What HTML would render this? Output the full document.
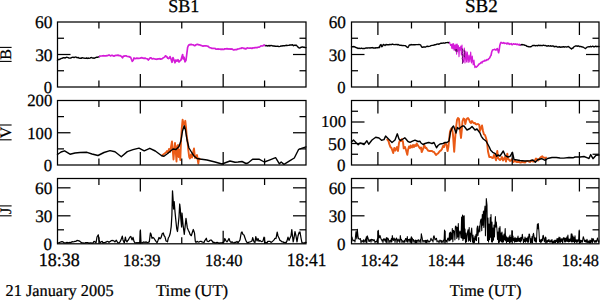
<!DOCTYPE html>
<html><head><meta charset="utf-8"><style>
html,body{margin:0;padding:0;background:#fff;}
svg{display:block;font-family:"Liberation Serif", serif;}
.t{fill:#000;text-rendering:geometricPrecision;stroke:#000;stroke-width:1.5px;}
</style></head><body>
<svg width="600" height="300" viewBox="0 0 600 300">
<rect width="600" height="300" fill="#fff"/>
<polyline points="57.50,60.30 58.25,59.57 59.00,59.50 60.00,59.31 61.00,58.50 62.00,58.39 63.00,57.80 64.00,57.68 65.00,58.00 65.75,57.65 66.50,57.30 67.25,57.40 68.00,57.60 69.00,57.99 70.00,58.10 71.00,58.01 72.00,57.40 73.00,57.13 74.00,57.60 75.00,57.10 76.00,57.03 77.00,57.80 78.00,57.40 79.00,58.10 80.00,58.20 80.75,58.09 81.50,58.34 82.25,57.60 83.00,58.00 84.00,58.10 85.00,58.30 85.75,58.42 86.50,57.91 87.25,58.48 88.00,58.00 89.00,58.41 90.00,58.10 90.75,57.63 91.50,57.57 92.25,57.99 93.00,57.90 94.00,58.25 95.00,57.80 95.83,57.53 96.67,57.21 97.50,57.30 98.50,56.83 99.50,56.50" fill="none" stroke="#000" stroke-width="1.4" stroke-linejoin="round" stroke-linecap="round" />
<polyline points="264.50,45.30 265.25,45.76 266.00,45.40 267.00,46.00 268.00,45.80 269.00,45.50 270.00,46.00 271.00,45.43 272.00,45.60 273.00,46.05 274.00,45.90 275.00,46.26 276.00,46.20 276.75,46.40 277.50,46.30 278.25,46.28 279.00,46.60 280.00,46.40 281.00,46.00 282.00,46.00 283.00,45.80 284.00,45.82 285.00,45.70 286.00,45.29 287.00,45.50 288.00,45.34 289.00,45.30 290.00,45.05 291.00,45.00 291.75,45.05 292.50,44.70 293.50,45.80 294.50,45.10 295.25,45.50 296.00,45.00 297.00,45.90 298.00,47.10 299.00,47.90 299.75,48.10 300.50,47.50 301.25,47.29 302.00,47.00 302.75,47.05 303.50,47.20 304.25,47.19 305.00,47.60 306.00,47.60" fill="none" stroke="#000" stroke-width="1.4" stroke-linejoin="round" stroke-linecap="round" />
<polyline points="99.50,56.50 100.25,55.99 101.00,56.00 102.00,55.94 103.00,55.80 104.00,55.72 105.00,55.90 106.00,55.85 107.00,55.60 107.75,55.70 108.50,55.12 109.25,55.04 110.00,55.50 110.75,55.89 111.50,55.36 112.25,55.38 113.00,55.70 114.00,56.15 115.00,55.60 116.00,55.42 117.00,55.30 118.00,55.10 119.00,55.69 120.00,55.60 120.75,55.98 121.50,56.40 122.50,57.80 123.50,56.00 124.25,56.09 125.00,55.90 126.00,55.75 127.00,56.30 128.00,56.53 129.00,56.50 129.75,57.12 130.50,57.00 131.50,59.50 132.30,61.30 133.20,60.20 134.00,58.00 135.00,58.60 136.00,58.37 137.00,58.10 138.00,58.44 139.00,58.30 140.00,58.27 141.00,57.90 142.00,57.61 143.00,58.20 144.00,58.41 145.00,58.10 146.00,58.54 147.00,58.80 147.65,59.20 148.30,60.00 149.50,58.60 150.25,57.73 151.00,57.80 151.75,58.67 152.50,58.80 153.25,58.72 154.00,58.70 155.00,59.07 156.00,59.00 157.00,59.33 158.00,58.90 159.00,58.96 160.00,58.60 160.75,59.22 161.50,59.00 162.50,58.40 163.25,57.79 164.00,57.40 164.75,56.90 165.50,55.80 166.25,56.34 167.00,57.00 167.75,58.24 168.50,58.60 169.25,57.98 170.00,56.60 171.00,59.00 172.00,62.30 173.00,57.50 174.00,60.00 175.00,62.80 176.00,60.00 177.00,61.20 178.00,59.60 179.00,62.00 180.00,60.80 181.00,60.00 182.00,56.50 182.60,54.50 183.30,59.00 184.00,57.20 185.00,61.80 186.00,60.20 186.80,54.00 187.60,47.50 188.50,45.30 189.25,44.65 190.00,44.80 191.00,44.34 192.00,44.60 193.00,44.72 194.00,45.40 194.75,45.72 195.50,45.10 196.50,44.64 197.50,44.30 198.25,44.68 199.00,44.80 200.00,44.90 201.00,45.40 202.00,45.76 203.00,46.10 204.00,45.89 205.00,45.90 206.00,45.80 207.00,46.00 207.65,46.29 208.30,46.40 209.30,47.50 210.15,47.78 211.00,47.90 212.00,48.45 213.00,48.20 214.00,48.48 215.00,48.40 215.90,49.23 216.80,49.20 218.00,48.90 219.00,49.31 220.00,49.00 221.00,49.54 222.00,49.10 223.00,49.42 224.00,49.40 224.75,48.76 225.50,48.80 226.25,49.01 227.00,48.50 228.00,49.11 229.00,48.80 230.00,49.25 231.00,48.90 231.75,49.12 232.50,49.20 233.25,49.81 234.00,50.00 235.00,49.56 236.00,49.70 236.75,49.68 237.50,49.00 238.25,48.97 239.00,48.80 240.00,48.43 241.00,48.50 242.00,47.81 243.00,48.00 244.00,48.55 245.00,48.40 245.75,48.99 246.50,48.60 247.25,47.89 248.00,48.00 249.00,48.30 250.00,48.00 251.00,48.11 252.00,48.40 253.00,47.85 254.00,48.00 255.00,47.59 256.00,47.60 257.00,47.67 258.00,47.20 259.00,47.27 260.00,46.60 261.00,45.84 262.00,46.00 262.83,45.88 263.67,45.08 264.50,45.30" fill="none" stroke="#d41cd8" stroke-width="1.7" stroke-linejoin="round" stroke-linecap="round" />
<polyline points="351.50,47.00 352.25,46.64 353.00,46.70 354.00,46.53 355.00,47.00 355.75,47.32 356.50,47.80 357.25,47.87 358.00,48.50 359.00,48.15 360.00,48.50 361.00,48.32 362.00,48.30 362.75,48.63 363.50,48.54 364.25,48.51 365.00,48.30 366.00,47.93 367.00,48.00 367.75,48.05 368.50,47.87 369.25,47.81 370.00,48.10 371.00,47.63 372.00,47.80 372.75,47.57 373.50,48.14 374.25,48.06 375.00,47.80 376.00,47.95 377.00,47.60 377.83,47.81 378.67,47.29 379.50,47.50 380.20,45.00 381.00,44.50 381.80,46.80 382.60,46.00 383.30,44.40 384.15,44.80 385.00,45.50 386.00,44.50 387.00,44.75 388.00,44.80 389.00,44.74 390.00,44.30 390.75,44.61 391.50,44.65 392.25,44.04 393.00,44.40 393.75,44.53 394.50,44.64 395.25,44.55 396.00,44.60 396.75,44.42 397.50,44.73 398.25,44.50 399.00,44.90 400.00,45.40 401.00,45.20 402.00,45.64 403.00,45.50 404.00,45.59 405.00,45.60 405.75,45.94 406.50,46.60 407.25,47.38 408.00,47.50 408.65,46.31 409.30,45.00 410.15,45.06 411.00,44.50 412.00,44.83 413.00,44.60 414.00,44.71 415.00,44.80 416.00,44.63 417.00,44.60 418.00,44.63 419.00,44.50 419.75,44.59 420.50,44.80 421.50,46.80 422.50,47.40 423.33,47.00 424.17,46.98 425.00,47.00 425.75,47.13 426.50,46.38 427.25,46.26 428.00,46.50 429.00,46.40 430.00,46.10 431.00,45.57 432.00,45.40 433.00,45.23 434.00,45.00 435.00,44.73 436.00,44.50 437.00,44.12 438.00,44.00 439.00,44.20 440.00,43.60 441.00,43.21 442.00,43.30 442.75,43.16 443.50,42.91 444.25,43.18 445.00,43.00 446.00,42.62 447.00,42.60 447.83,42.45 448.67,42.73 449.50,42.50" fill="none" stroke="#000" stroke-width="1.4" stroke-linejoin="round" stroke-linecap="round" />
<polyline points="520.00,45.00 521.00,44.85 522.00,44.50 523.00,44.84 524.00,44.80 525.00,45.39 526.00,45.50 527.00,46.35 528.00,46.50 529.00,46.84 530.00,46.80 531.00,46.74 532.00,46.00 533.00,45.37 534.00,45.50 534.75,45.47 535.50,45.85 536.25,45.62 537.00,45.50 537.75,45.82 538.50,45.19 539.25,45.48 540.00,45.50 540.83,45.31 541.67,45.57 542.50,45.61 543.33,45.18 544.17,45.36 545.00,45.60 545.83,45.49 546.67,46.07 547.50,46.01 548.33,45.59 549.17,46.17 550.00,46.00 550.83,45.79 551.67,46.26 552.50,45.95 553.33,45.93 554.17,46.71 555.00,46.50 555.83,46.35 556.67,46.44 557.50,47.14 558.33,47.13 559.17,46.75 560.00,47.00 560.83,47.34 561.67,46.96 562.50,47.04 563.33,46.63 564.17,47.19 565.00,46.80 565.75,46.88 566.50,47.02 567.25,46.89 568.00,46.50 569.00,46.99 570.00,47.80 570.75,48.29 571.50,49.00 572.25,48.23 573.00,48.00 573.75,46.97 574.50,46.50 575.33,45.99 576.17,46.01 577.00,46.00 577.75,46.21 578.50,45.85 579.25,46.52 580.00,46.50 580.75,46.50 581.50,46.60 582.25,47.13 583.00,47.00 583.75,47.48 584.50,48.00 585.50,48.60 586.25,47.75 587.00,47.20 588.00,46.88 589.00,46.60 589.75,46.74 590.50,46.20 591.25,46.91 592.00,46.50 592.75,46.12 593.50,46.70 594.25,46.78 595.00,46.50 595.80,46.11 596.60,46.73 597.40,46.39 598.20,46.56 599.00,46.50" fill="none" stroke="#000" stroke-width="1.4" stroke-linejoin="round" stroke-linecap="round" />
<polyline points="449.50,42.50 450.00,43.71 450.60,45.46 451.20,44.20 451.80,48.33 452.40,43.73 453.00,49.00 453.60,43.58 454.20,50.39 454.80,44.96 455.40,49.98 456.00,44.03 456.60,54.31 457.20,44.03 457.80,50.68 458.40,45.56 459.00,56.67 459.60,47.28 460.20,50.12 460.80,46.02 461.40,54.85 462.00,45.11 462.60,62.45 463.50,62.00 464.30,48.00 465.00,63.00 465.80,51.00 466.60,62.00 467.30,52.00 468.20,62.50 469.00,55.00 469.80,62.00 470.70,52.00 471.50,63.00 472.30,56.00 473.20,65.00 474.00,60.00 474.80,67.80 475.50,66.00 476.30,67.50 477.20,66.30" fill="none" stroke="#d41cd8" stroke-width="1.1" stroke-linejoin="round" stroke-linecap="round" />
<polyline points="477.20,66.30 478.00,65.50 478.50,64.72 479.00,64.00 479.50,63.94 480.00,63.50 480.50,63.20 481.00,62.50 481.50,62.22 482.00,62.80 482.50,61.56 483.00,61.50 483.50,61.20 484.00,61.20 484.50,60.48 485.00,60.30 485.50,60.77 486.00,60.50 486.50,60.23 487.00,59.50 487.50,59.67 488.00,59.60 488.50,59.12 489.00,58.50 489.50,58.09 490.00,57.30 490.50,55.97 491.00,55.50 491.70,52.00 492.50,50.00 493.25,49.73 494.00,49.60 494.75,49.34 495.50,49.90 496.00,50.09 496.50,49.30 497.30,48.60 498.00,50.50 498.60,52.80 499.20,50.00 499.80,45.50 500.50,43.20 501.00,42.37 501.50,42.60 502.25,43.18 503.00,43.00 503.67,42.59 504.33,43.42 505.00,43.30 505.60,43.18 506.20,43.35 506.80,43.95 507.40,43.04 508.00,43.70 508.67,43.27 509.33,44.40 510.00,44.00 510.60,44.05 511.20,43.59 511.80,44.70 512.40,44.70 513.00,44.20 513.67,43.77 514.33,44.17 515.00,44.30 515.60,43.90 516.20,44.16 516.80,44.57 517.40,44.06 518.00,44.50 518.67,44.90 519.33,44.29 520.00,45.00" fill="none" stroke="#d41cd8" stroke-width="1.6" stroke-linejoin="round" stroke-linecap="round" />
<polyline points="455.30,49.50 456.00,51.50 456.60,49.20 457.20,51.80" fill="none" stroke="#5a0a5e" stroke-width="0.9" stroke-linejoin="round" stroke-linecap="round" />
<polyline points="462.20,48.70 462.90,51.00 462.20,53.50 462.90,56.00 462.20,58.50 462.90,61.00 462.40,63.50" fill="none" stroke="#5a0a62" stroke-width="0.9" stroke-linejoin="round" stroke-linecap="round" />
<polyline points="464.10,50.00 464.60,52.50 464.10,55.00 464.60,57.00" fill="none" stroke="#5a0a5e" stroke-width="0.9" stroke-linejoin="round" stroke-linecap="round" />
<polyline points="162.00,155.50 164.00,154.00 166.00,152.50 167.00,151.00 168.00,153.00 169.00,149.00 170.00,152.00 171.00,147.00 172.00,141.50 172.80,151.00 173.50,159.50 174.30,150.00 175.00,143.00 175.80,152.00 176.50,161.50 177.30,146.00 178.00,145.00 178.70,157.00 179.50,150.00 180.30,160.00 181.00,141.00 181.80,128.00 182.60,119.80 183.50,124.00 184.30,125.00 185.30,120.80 186.00,127.00 186.70,136.00 187.50,141.00 188.30,150.00 189.20,157.00 190.00,158.50 191.00,154.50 192.00,157.50 193.00,153.00 194.00,148.50 195.00,158.00 196.00,157.00 197.00,155.00 198.30,163.50 199.00,158.50 200.00,159.00" fill="none" stroke="#ea5a16" stroke-width="1.9" stroke-linejoin="round" stroke-linecap="round" />
<polyline points="57.50,154.50 61.00,152.00 64.60,150.80 70.00,154.20 75.00,153.00 80.00,152.50 87.00,152.30 92.00,154.00 98.00,155.50 104.00,152.50 110.00,150.60 115.00,151.80 121.30,156.80 127.30,151.60 133.00,149.60 139.00,148.10 144.20,150.80 149.80,148.30 155.30,151.00 161.70,155.70 164.00,156.20 167.00,154.00 170.00,151.50 173.00,149.00 176.00,149.50 179.00,146.50 181.00,140.50 182.50,131.00 184.20,125.80 185.50,130.00 187.00,140.00 189.00,148.00 192.00,153.00 194.00,156.00 197.00,158.50 200.00,159.00 207.00,160.00 215.00,162.00 222.00,164.00 226.00,162.50 230.00,161.00 235.00,162.30 238.00,162.00 242.00,161.50 246.00,163.50 248.00,163.00 252.60,159.20 259.00,159.20 264.30,162.00 270.00,159.80 275.60,157.70 279.40,163.80 281.20,162.00 284.00,164.40 290.00,160.60 294.30,158.00 298.70,149.30 302.20,148.10 306.00,146.90" fill="none" stroke="#000" stroke-width="1.4" stroke-linejoin="round" stroke-linecap="round" />
<polyline points="387.30,139.60 388.50,141.00 389.25,143.91 390.00,146.00 390.75,147.45 391.50,148.00 392.35,150.48 393.20,153.00 394.30,148.00 395.50,150.50 396.25,148.42 397.00,147.00 398.00,151.00 399.00,143.00 400.00,140.00 401.00,141.00 402.00,139.00 403.00,142.00 403.70,148.30 405.00,147.00 406.00,150.00 407.30,154.80 408.00,150.00 409.00,146.50 410.00,148.00 410.70,145.50 412.00,147.50 413.00,145.00 414.00,147.00 415.00,145.00 416.00,146.00 416.70,143.50 418.00,145.50 419.00,147.00 420.00,148.50 421.00,147.50 421.70,152.00 423.00,149.00 424.20,145.20 425.50,148.00 426.25,147.80 427.00,149.00 428.00,150.50 429.00,150.98 430.00,151.00 431.00,150.96 432.00,151.00 433.00,151.86 434.00,152.00 435.00,153.50 436.00,155.00 437.00,154.00 438.00,153.50 439.00,152.07 440.00,151.00 441.00,150.38 442.00,149.00 443.00,146.00 444.00,147.00 445.00,143.20 445.75,143.78 446.50,145.00 447.60,151.00 448.50,146.00 449.30,138.00 450.00,131.70 451.00,129.00 452.00,128.00 453.00,135.00 454.20,151.70 455.00,140.00 456.00,128.00 457.00,120.00 458.00,118.00 459.00,119.00 460.00,130.00 461.00,138.00 461.80,130.00 462.50,121.00 463.50,118.50 464.50,119.00 465.30,124.00 466.00,121.00 467.00,118.50 468.00,118.00 469.00,119.50 470.00,122.00 471.00,123.00 472.00,121.00 473.00,122.50 474.00,123.17 475.00,123.00 475.75,124.07 476.50,124.50 477.25,124.13 478.00,124.00 479.30,125.00 480.00,131.00 481.00,128.00 482.00,125.50 483.00,131.00 484.00,134.50 485.00,135.00 486.00,138.00 487.00,142.00 488.00,151.50 489.30,157.00 490.15,157.05 491.00,157.00 492.00,157.75 493.00,158.00 494.00,155.00 495.00,157.22 496.00,160.30 497.30,151.00 498.00,158.00 499.00,159.08 500.00,160.00 501.00,158.93 502.00,157.00 503.00,160.50 504.00,159.00 505.00,157.00 506.00,161.50 507.30,153.70 508.00,159.00 509.00,159.67 510.00,161.00 511.00,160.42 512.00,159.00 513.00,162.00 514.00,161.51 515.00,160.50 516.00,161.73 517.00,162.00 518.00,161.94 519.00,161.76 520.00,162.50 521.00,162.42 522.00,161.50 523.00,162.26 524.00,162.09 525.00,162.50 526.00,161.43 527.00,161.08 528.00,161.00 529.00,161.69 530.00,162.00 531.00,160.96 532.00,160.50 533.00,161.63 534.00,161.50 535.00,160.12 536.00,158.50 537.00,159.08 538.00,160.50 539.00,159.47 540.00,158.00 541.15,156.95 542.30,156.30 543.15,157.51 544.00,157.50 545.00,158.07 546.00,157.50" fill="none" stroke="#ea5a16" stroke-width="1.95" stroke-linejoin="round" stroke-linecap="round" />
<polyline points="351.50,141.90 353.50,140.00 356.40,143.10 358.20,144.80 360.00,143.00 362.00,143.50 364.00,144.50 366.90,140.80 368.70,144.30 372.00,140.00 375.70,137.30 379.00,138.00 381.50,140.20 384.00,139.60 385.60,136.10 388.00,138.50 392.00,142.50 395.00,140.00 397.30,133.80 399.00,139.00 400.50,140.50 403.00,139.00 404.80,137.80 405.50,138.50 408.00,141.50 410.00,142.40 412.50,141.20 415.00,140.20 418.00,141.50 420.00,141.30 421.00,143.00 423.00,144.50 425.00,143.50 428.50,142.50 430.00,142.80 432.00,143.50 434.00,142.50 436.50,147.80 438.00,145.50 440.00,144.00 443.00,143.50 445.00,142.50 447.00,142.50 449.00,141.00 450.50,132.00 452.50,127.00 453.50,126.00 455.00,130.00 456.00,133.00 457.50,127.50 459.00,129.00 461.00,127.00 462.50,126.00 464.00,126.00 467.00,130.00 470.00,128.50 472.00,126.50 475.00,130.00 477.00,129.00 480.00,133.00 481.30,136.30 483.30,139.00 486.00,141.00 489.30,147.00 490.70,150.30 492.70,152.30 495.30,153.70 496.70,156.30 498.00,155.00 500.00,156.00 503.30,151.00 505.30,155.70 508.00,157.00 510.00,156.30 512.50,152.30 514.00,159.50 517.00,160.00 520.00,160.50 525.00,161.00 530.00,160.70 533.00,160.00 535.30,162.20 538.00,159.50 541.70,158.70 545.20,160.40 547.50,158.50 552.00,157.50 556.30,157.50 560.00,158.00 563.80,158.10 569.00,157.50 573.00,157.80 575.00,157.00 580.00,157.00 584.00,156.50 587.50,157.80 589.00,158.50 590.70,154.60 593.00,158.70 596.00,155.20 599.00,155.00" fill="none" stroke="#000" stroke-width="1.4" stroke-linejoin="round" stroke-linecap="round" />
<polyline points="57.50,242.90 58.25,242.86 59.00,242.90 60.00,242.27 61.00,241.90 62.00,241.54 63.00,241.90 64.00,242.77 65.00,242.90 66.00,242.90 67.00,242.41 68.00,242.90 69.00,242.65 70.00,242.40 71.00,242.63 72.00,241.65 73.00,241.90 74.00,241.70 75.00,241.40 76.00,241.28 77.00,240.47 78.00,240.70 79.00,240.93 80.00,241.40 81.00,242.35 82.00,242.90 83.00,242.85 84.00,243.13 85.00,242.90 85.83,242.56 86.67,242.64 87.50,242.51 88.33,242.91 89.17,243.32 90.00,242.90 91.00,242.99 92.00,243.17 93.00,242.90 94.00,241.40 95.00,241.90 96.00,242.90 97.00,237.00 98.30,234.80 99.00,239.90 100.00,242.90 101.00,241.90 102.30,241.40 103.00,242.90 104.00,242.53 105.00,242.40 106.00,242.15 107.00,241.40 108.00,241.50 109.00,242.40 109.77,241.56 110.53,241.31 111.30,240.50 112.15,240.68 113.00,240.40 114.00,241.07 115.00,241.90 116.30,240.20 117.30,241.90 118.00,242.90 119.00,242.90 120.00,241.90 121.00,239.90 122.30,236.20 123.00,239.90 124.30,242.90 125.40,237.20 126.00,240.40 127.00,241.90 127.70,240.49 128.40,239.90 129.20,238.22 130.00,237.00 130.80,236.40 132.00,239.90 133.00,237.40 134.00,241.40 135.00,242.90 136.00,242.90 137.00,242.61 138.00,242.90 138.90,242.68 139.80,242.90 140.40,230.00 141.00,242.90 142.00,242.96 143.00,242.40 144.00,241.93 145.00,242.45 146.00,241.90 147.00,242.53 148.00,242.40 149.30,241.90 150.40,233.00 151.00,234.00 152.00,238.30 153.00,237.50 154.00,238.25 155.00,239.90 156.00,241.40 157.00,242.70 158.00,240.40 159.00,237.50 160.00,238.80 161.00,237.80 162.30,233.50 163.30,233.00 164.00,235.50 165.00,236.80 166.00,240.90 166.75,241.23 167.50,241.80 168.30,238.00 169.20,236.50 170.20,233.50 171.20,226.60 171.90,215.00 172.50,190.80 173.10,199.50 173.60,209.00 174.20,201.70 175.00,211.70 175.80,220.00 176.70,228.50 177.50,231.50 178.20,225.00 179.00,217.00 179.70,204.00 180.30,209.00 180.80,218.30 181.60,227.00 182.00,213.00 183.00,224.30 184.30,234.30 185.15,226.29 186.00,218.30 187.30,227.70 188.30,230.30 189.15,231.82 190.00,234.30 191.30,235.70 192.30,232.52 193.30,229.50 194.50,233.00 195.30,241.20 196.00,242.40 197.00,241.40 198.00,241.90 199.00,242.06 200.00,241.40 201.00,241.26 202.00,241.90 203.00,242.25 204.00,242.40 204.77,240.62 205.53,239.68 206.30,238.20 207.00,240.90 208.00,241.55 209.00,241.40 209.70,240.45 210.40,240.10 211.20,240.01 212.00,240.90 213.00,242.40 214.00,242.23 215.00,242.90 215.83,242.94 216.67,242.42 217.50,242.48 218.33,242.90 219.17,243.32 220.00,242.90 221.00,242.82 222.00,242.90 223.00,242.30 224.00,241.90 224.80,238.50 226.00,240.90 227.00,241.90 228.00,240.40 229.00,238.50 230.00,241.40 231.00,242.40 232.00,241.90 233.00,242.54 234.00,242.90 235.00,242.24 236.00,242.40 237.00,241.40 238.00,242.90 239.00,241.48 240.00,239.90 241.20,233.00 242.00,232.00 243.00,234.50 244.00,235.00 245.00,238.00 246.00,240.90 247.00,242.40 248.00,242.90 249.00,242.07 250.00,241.90 251.00,241.51 252.00,240.90 252.70,237.60 254.00,241.90 255.00,242.40 255.80,236.60 257.00,240.90 258.00,238.50 259.00,241.40 260.00,240.40 261.00,241.40 262.00,241.61 263.00,240.90 264.00,237.20 265.00,242.90 266.00,242.45 267.00,242.90 267.80,241.40 268.90,241.46 270.00,241.40 271.00,242.40 272.00,241.76 273.00,240.90 274.00,239.90 275.00,238.30 276.00,238.50 277.20,232.20 278.00,236.00 279.00,238.00 280.00,240.40 281.00,240.80 282.00,241.90 283.00,241.83 284.00,242.73 285.00,242.40 286.00,242.90 287.00,240.90 288.00,237.20 289.00,240.40 290.00,238.00 291.00,236.00 291.80,229.60 292.50,236.00 293.20,241.90 294.00,238.00 295.00,231.70 296.00,236.00 297.00,241.90 298.00,236.00 299.20,232.20 300.00,232.00 301.00,238.00 302.00,242.90 303.00,242.90 304.00,243.15 305.00,242.40 306.00,242.40" fill="none" stroke="#000" stroke-width="1.25" stroke-linejoin="round" stroke-linecap="round" />
<polyline points="351.50,239.00 352.00,237.00 352.50,239.46 353.00,241.00 353.50,240.37 354.00,240.00 354.50,240.60 355.00,242.00 355.50,236.29 356.00,231.50 356.43,236.69 356.87,238.94 357.30,229.30 358.00,236.00 358.50,238.64 359.00,239.00 359.50,239.32 360.00,238.50 360.50,238.77 361.00,243.04 361.50,241.00 362.00,240.50 362.50,241.38 363.00,241.99 363.50,239.71 364.00,242.35 364.50,240.86 365.00,241.00 365.43,238.97 365.87,242.30 366.30,236.80 366.80,242.94 367.30,235.80 368.00,238.00 368.50,239.77 369.00,241.50 369.50,241.27 370.00,239.50 370.50,239.97 371.00,242.14 371.50,239.34 372.00,239.50 372.50,239.44 373.00,241.00 373.50,240.35 374.00,239.50 374.50,240.70 375.00,242.58 375.50,241.61 376.00,241.50 376.50,241.91 377.00,240.50 377.43,238.54 377.87,243.10 378.30,230.20 379.00,238.00 379.50,237.34 380.00,235.50 380.50,237.22 381.00,239.00 381.50,239.14 382.00,241.00 382.50,239.73 383.00,242.54 383.50,239.42 384.00,238.50 384.50,239.72 385.00,241.00 385.47,239.11 385.93,242.29 386.40,237.50 386.93,243.20 387.47,238.00 388.00,238.50 388.50,239.30 389.00,243.02 389.50,240.73 390.00,241.00 390.46,240.20 390.92,242.29 391.38,238.53 391.84,241.97 392.30,235.50 393.00,240.00 393.50,240.49 394.00,238.00 394.50,239.02 395.00,242.46 395.50,239.30 396.00,239.00 396.50,238.02 397.00,242.76 397.50,240.65 398.00,239.00 398.50,240.14 399.00,241.50 399.43,239.73 399.87,242.56 400.30,235.50 401.00,240.00 401.50,239.45 402.00,242.56 402.50,240.84 403.00,241.00 403.50,241.22 404.00,242.72 404.50,240.22 405.00,241.98 405.50,238.56 406.00,238.50 406.43,239.83 406.87,241.79 407.30,236.50 407.87,242.39 408.43,239.56 409.00,240.00 409.46,239.10 409.92,242.12 410.38,238.93 410.84,242.47 411.30,236.70 412.00,238.00 412.50,238.82 413.00,242.31 413.50,239.53 414.00,241.00 414.50,240.85 415.00,242.85 415.50,240.12 416.00,242.89 416.50,240.28 417.00,242.73 417.50,240.23 418.00,240.00 418.50,239.73 419.00,242.48 419.50,240.69 420.00,241.00 420.43,239.19 420.87,242.88 421.30,233.70 422.00,237.00 422.50,239.96 423.00,242.27 423.50,240.72 424.00,240.50 424.50,240.79 425.00,242.29 425.50,240.36 426.00,242.66 426.50,240.34 427.00,242.70 427.50,239.95 428.00,240.50 428.50,241.40 429.00,242.25 429.50,241.13 430.00,241.50 430.50,240.16 431.00,238.20 431.50,239.68 432.00,240.50 432.50,239.76 433.00,242.08 433.50,236.63 434.00,235.70 434.50,237.37 435.00,240.00 435.50,239.32 436.00,238.50 436.50,238.37 437.00,241.92 437.50,241.08 438.00,241.00 438.50,240.95 439.00,242.98 439.50,240.90 440.00,240.00 440.50,240.58 441.00,242.12 441.50,240.57 442.00,242.81 442.50,241.06 443.00,241.00 443.50,240.16 444.00,242.59 444.50,230.00 445.00,239.00 445.50,240.95 446.00,241.50 446.50,240.30 447.00,242.40 447.50,239.03 448.00,238.00 448.50,239.51 449.00,240.97 449.50,232.80 450.00,240.69 450.50,232.00 450.95,239.42 451.40,232.95 451.85,238.88 452.30,228.50 452.87,241.63 453.43,230.33 454.00,231.00 454.45,232.82 454.90,239.89 455.35,226.73 455.80,226.00 456.30,227.19 456.80,238.37 457.30,227.22 457.80,237.03 458.30,223.50 458.87,239.74 459.43,233.23 460.00,231.00 460.53,233.45 461.07,237.79 461.60,217.00 462.05,238.35 462.50,215.00 462.90,240.42 463.30,216.00 463.75,238.91 464.20,215.80 464.60,238.39 465.00,229.00 465.50,242.38 466.00,233.00 466.50,241.94 467.00,237.15 467.50,232.00 468.07,229.67 468.63,241.15 469.20,227.50 469.60,240.33 470.00,233.00 470.57,241.67 471.13,232.19 471.70,228.00 472.13,236.37 472.57,242.31 473.00,235.00 473.50,243.06 474.00,237.94 474.50,242.55 475.00,236.00 475.50,240.02 476.00,234.38 476.50,240.72 477.00,228.64 477.50,226.00 477.90,235.80 478.30,233.00 478.75,230.32 479.20,226.00 479.75,232.04 480.30,222.00 480.75,219.97 481.20,219.00 481.75,230.73 482.30,214.50 482.85,225.25 483.40,211.00 483.85,227.44 484.30,214.00 485.00,206.00 485.43,235.77 485.87,218.66 486.30,198.60 487.00,205.00 487.50,240.57 488.00,218.00 488.50,241.96 489.00,224.00 489.60,239.68 490.20,217.50 490.60,237.29 491.00,214.50 491.50,241.86 492.00,222.00 492.50,241.89 493.00,228.00 493.50,240.31 494.00,225.00 494.47,236.99 494.93,225.03 495.40,216.60 495.85,227.10 496.30,222.00 497.00,230.00 497.50,239.38 498.00,232.00 498.50,242.83 499.00,228.00 499.50,242.26 500.00,226.50 500.50,241.06 501.00,232.95 501.50,241.92 502.00,232.00 502.50,242.33 503.00,235.82 503.50,242.01 504.00,234.00 504.60,239.91 505.20,228.50 505.60,240.77 506.00,236.00 506.50,242.85 507.00,237.16 507.50,241.58 508.00,238.00 508.50,241.37 509.00,236.73 509.50,243.01 510.00,235.00 510.50,242.24 511.00,237.56 511.50,241.60 512.00,230.50 512.50,240.27 513.00,236.00 513.50,240.82 514.00,238.42 514.50,242.20 515.00,237.20 515.50,241.66 516.00,238.59 516.50,241.78 517.00,238.00 517.50,241.37 518.00,236.00 518.50,241.26 519.00,238.30 519.50,241.54 520.00,238.00 520.46,242.08 520.92,237.18 521.38,240.94 521.84,238.44 522.30,234.20 523.00,239.00 523.50,242.69 524.00,239.20 524.50,241.61 525.00,237.00 525.50,242.14 526.00,238.18 526.50,241.10 527.00,238.00 527.50,242.12 528.00,236.73 528.50,242.29 529.00,234.00 529.50,234.20 530.00,238.00 530.50,242.77 531.00,238.65 531.50,242.52 532.00,236.50 532.50,242.75 533.00,235.00 533.50,233.30 534.00,236.00 534.50,241.06 535.00,237.65 535.50,241.94 536.00,238.00 536.47,242.25 536.93,231.34 537.40,224.00 537.85,228.70 538.30,223.50 539.00,232.00 539.50,241.61 540.00,240.00 540.50,242.35 541.00,239.62 541.50,242.07 542.00,239.00 542.43,240.80 542.87,235.88 543.30,235.40 544.00,240.00 544.47,241.81 544.93,238.33 545.40,237.00 546.00,241.00 546.50,242.33 547.00,240.53 547.50,242.16 548.00,240.00 548.50,241.46 549.00,239.50 549.50,242.09 550.00,241.00 550.50,242.04 551.00,240.12 551.50,242.01 552.00,239.50 552.50,243.20 553.00,241.50 553.50,242.73 554.00,240.56 554.50,242.52 555.00,240.00 555.50,242.75 556.00,240.38 556.50,241.50 557.00,238.50 557.50,242.82 558.00,238.48 558.50,242.36 559.00,237.00 559.50,242.13 560.00,237.50 560.50,242.34 561.00,239.00 561.54,241.50 562.08,238.32 562.62,243.01 563.16,239.78 563.70,237.50 564.16,237.89 564.62,241.94 565.08,238.34 565.54,241.93 566.00,238.00 566.48,241.13 566.95,236.89 567.42,241.55 567.90,235.00 568.45,241.87 569.00,239.00 569.55,241.76 570.10,238.95 570.65,241.18 571.20,233.80 571.60,242.03 572.00,234.00 572.50,241.85 573.00,236.00 573.50,241.76 574.00,237.50 574.50,242.70 575.00,235.80 575.50,241.82 576.00,240.00 576.50,242.35 577.00,239.60 577.50,242.05 578.00,240.00 578.60,241.13 579.20,230.00 579.60,242.20 580.00,240.00 580.50,242.53 581.00,240.32 581.50,242.07 582.00,240.50 582.43,242.20 582.87,238.87 583.30,236.70 583.87,238.49 584.43,241.51 585.00,240.00 585.50,241.96 586.00,240.34 586.50,242.25 587.00,239.20 587.50,242.48 588.00,240.92 588.50,242.46 589.00,241.00 589.50,242.84 590.00,240.00 590.47,242.92 590.94,240.57 591.41,241.93 591.89,238.19 592.36,242.86 592.83,238.90 593.30,238.70 594.00,241.50 594.50,242.27 595.00,240.61 595.50,242.19 596.00,240.61 596.50,242.12 597.00,239.91 597.50,238.00 598.00,240.09 598.50,242.06 599.00,241.00" fill="none" stroke="#000" stroke-width="1.05" stroke-linejoin="round" stroke-linecap="round" />
<line x1="98.92" y1="22.00" x2="98.92" y2="28.50" stroke="#000" stroke-width="1.25"/>
<line x1="98.92" y1="87.00" x2="98.92" y2="80.50" stroke="#000" stroke-width="1.25"/>
<line x1="140.33" y1="22.00" x2="140.33" y2="35.00" stroke="#000" stroke-width="1.25"/>
<line x1="140.33" y1="87.00" x2="140.33" y2="74.00" stroke="#000" stroke-width="1.25"/>
<line x1="181.75" y1="22.00" x2="181.75" y2="28.50" stroke="#000" stroke-width="1.25"/>
<line x1="181.75" y1="87.00" x2="181.75" y2="80.50" stroke="#000" stroke-width="1.25"/>
<line x1="223.17" y1="22.00" x2="223.17" y2="35.00" stroke="#000" stroke-width="1.25"/>
<line x1="223.17" y1="87.00" x2="223.17" y2="74.00" stroke="#000" stroke-width="1.25"/>
<line x1="264.58" y1="22.00" x2="264.58" y2="28.50" stroke="#000" stroke-width="1.25"/>
<line x1="264.58" y1="87.00" x2="264.58" y2="80.50" stroke="#000" stroke-width="1.25"/>
<line x1="57.50" y1="54.50" x2="70.50" y2="54.50" stroke="#000" stroke-width="1.25"/>
<line x1="306.00" y1="54.50" x2="293.00" y2="54.50" stroke="#000" stroke-width="1.25"/>
<line x1="57.50" y1="70.75" x2="64.00" y2="70.75" stroke="#000" stroke-width="1.25"/>
<line x1="306.00" y1="70.75" x2="299.50" y2="70.75" stroke="#000" stroke-width="1.25"/>
<line x1="57.50" y1="38.25" x2="64.00" y2="38.25" stroke="#000" stroke-width="1.25"/>
<line x1="306.00" y1="38.25" x2="299.50" y2="38.25" stroke="#000" stroke-width="1.25"/>
<rect x="57.50" y="22.00" width="248.50" height="65.00" fill="none" stroke="#000" stroke-width="1.25"/>
<line x1="98.92" y1="100.50" x2="98.92" y2="107.00" stroke="#000" stroke-width="1.25"/>
<line x1="98.92" y1="165.00" x2="98.92" y2="158.50" stroke="#000" stroke-width="1.25"/>
<line x1="140.33" y1="100.50" x2="140.33" y2="113.50" stroke="#000" stroke-width="1.25"/>
<line x1="140.33" y1="165.00" x2="140.33" y2="152.00" stroke="#000" stroke-width="1.25"/>
<line x1="181.75" y1="100.50" x2="181.75" y2="107.00" stroke="#000" stroke-width="1.25"/>
<line x1="181.75" y1="165.00" x2="181.75" y2="158.50" stroke="#000" stroke-width="1.25"/>
<line x1="223.17" y1="100.50" x2="223.17" y2="113.50" stroke="#000" stroke-width="1.25"/>
<line x1="223.17" y1="165.00" x2="223.17" y2="152.00" stroke="#000" stroke-width="1.25"/>
<line x1="264.58" y1="100.50" x2="264.58" y2="107.00" stroke="#000" stroke-width="1.25"/>
<line x1="264.58" y1="165.00" x2="264.58" y2="158.50" stroke="#000" stroke-width="1.25"/>
<line x1="57.50" y1="132.75" x2="70.50" y2="132.75" stroke="#000" stroke-width="1.25"/>
<line x1="306.00" y1="132.75" x2="293.00" y2="132.75" stroke="#000" stroke-width="1.25"/>
<line x1="57.50" y1="148.88" x2="64.00" y2="148.88" stroke="#000" stroke-width="1.25"/>
<line x1="306.00" y1="148.88" x2="299.50" y2="148.88" stroke="#000" stroke-width="1.25"/>
<line x1="57.50" y1="116.62" x2="64.00" y2="116.62" stroke="#000" stroke-width="1.25"/>
<line x1="306.00" y1="116.62" x2="299.50" y2="116.62" stroke="#000" stroke-width="1.25"/>
<rect x="57.50" y="100.50" width="248.50" height="64.50" fill="none" stroke="#000" stroke-width="1.25"/>
<line x1="98.92" y1="178.50" x2="98.92" y2="185.00" stroke="#000" stroke-width="1.25"/>
<line x1="98.92" y1="243.80" x2="98.92" y2="237.30" stroke="#000" stroke-width="1.25"/>
<line x1="140.33" y1="178.50" x2="140.33" y2="191.50" stroke="#000" stroke-width="1.25"/>
<line x1="140.33" y1="243.80" x2="140.33" y2="230.80" stroke="#000" stroke-width="1.25"/>
<line x1="181.75" y1="178.50" x2="181.75" y2="185.00" stroke="#000" stroke-width="1.25"/>
<line x1="181.75" y1="243.80" x2="181.75" y2="237.30" stroke="#000" stroke-width="1.25"/>
<line x1="223.17" y1="178.50" x2="223.17" y2="191.50" stroke="#000" stroke-width="1.25"/>
<line x1="223.17" y1="243.80" x2="223.17" y2="230.80" stroke="#000" stroke-width="1.25"/>
<line x1="264.58" y1="178.50" x2="264.58" y2="185.00" stroke="#000" stroke-width="1.25"/>
<line x1="264.58" y1="243.80" x2="264.58" y2="237.30" stroke="#000" stroke-width="1.25"/>
<line x1="57.50" y1="215.81" x2="70.50" y2="215.81" stroke="#000" stroke-width="1.25"/>
<line x1="306.00" y1="215.81" x2="293.00" y2="215.81" stroke="#000" stroke-width="1.25"/>
<line x1="57.50" y1="187.83" x2="70.50" y2="187.83" stroke="#000" stroke-width="1.25"/>
<line x1="306.00" y1="187.83" x2="293.00" y2="187.83" stroke="#000" stroke-width="1.25"/>
<line x1="57.50" y1="229.81" x2="64.00" y2="229.81" stroke="#000" stroke-width="1.25"/>
<line x1="306.00" y1="229.81" x2="299.50" y2="229.81" stroke="#000" stroke-width="1.25"/>
<line x1="57.50" y1="201.82" x2="64.00" y2="201.82" stroke="#000" stroke-width="1.25"/>
<line x1="306.00" y1="201.82" x2="299.50" y2="201.82" stroke="#000" stroke-width="1.25"/>
<rect x="57.50" y="178.50" width="248.50" height="65.30" fill="none" stroke="#000" stroke-width="1.25"/>
<line x1="377.90" y1="22.00" x2="377.90" y2="35.00" stroke="#000" stroke-width="1.25"/>
<line x1="377.90" y1="87.00" x2="377.90" y2="74.00" stroke="#000" stroke-width="1.25"/>
<line x1="411.48" y1="22.00" x2="411.48" y2="28.50" stroke="#000" stroke-width="1.25"/>
<line x1="411.48" y1="87.00" x2="411.48" y2="80.50" stroke="#000" stroke-width="1.25"/>
<line x1="445.07" y1="22.00" x2="445.07" y2="35.00" stroke="#000" stroke-width="1.25"/>
<line x1="445.07" y1="87.00" x2="445.07" y2="74.00" stroke="#000" stroke-width="1.25"/>
<line x1="478.65" y1="22.00" x2="478.65" y2="28.50" stroke="#000" stroke-width="1.25"/>
<line x1="478.65" y1="87.00" x2="478.65" y2="80.50" stroke="#000" stroke-width="1.25"/>
<line x1="512.24" y1="22.00" x2="512.24" y2="35.00" stroke="#000" stroke-width="1.25"/>
<line x1="512.24" y1="87.00" x2="512.24" y2="74.00" stroke="#000" stroke-width="1.25"/>
<line x1="545.83" y1="22.00" x2="545.83" y2="28.50" stroke="#000" stroke-width="1.25"/>
<line x1="545.83" y1="87.00" x2="545.83" y2="80.50" stroke="#000" stroke-width="1.25"/>
<line x1="579.41" y1="22.00" x2="579.41" y2="35.00" stroke="#000" stroke-width="1.25"/>
<line x1="579.41" y1="87.00" x2="579.41" y2="74.00" stroke="#000" stroke-width="1.25"/>
<line x1="351.50" y1="54.50" x2="364.50" y2="54.50" stroke="#000" stroke-width="1.25"/>
<line x1="599.00" y1="54.50" x2="586.00" y2="54.50" stroke="#000" stroke-width="1.25"/>
<line x1="351.50" y1="70.75" x2="358.00" y2="70.75" stroke="#000" stroke-width="1.25"/>
<line x1="599.00" y1="70.75" x2="592.50" y2="70.75" stroke="#000" stroke-width="1.25"/>
<line x1="351.50" y1="38.25" x2="358.00" y2="38.25" stroke="#000" stroke-width="1.25"/>
<line x1="599.00" y1="38.25" x2="592.50" y2="38.25" stroke="#000" stroke-width="1.25"/>
<rect x="351.50" y="22.00" width="247.50" height="65.00" fill="none" stroke="#000" stroke-width="1.25"/>
<line x1="377.90" y1="100.50" x2="377.90" y2="113.50" stroke="#000" stroke-width="1.25"/>
<line x1="377.90" y1="165.00" x2="377.90" y2="152.00" stroke="#000" stroke-width="1.25"/>
<line x1="411.48" y1="100.50" x2="411.48" y2="107.00" stroke="#000" stroke-width="1.25"/>
<line x1="411.48" y1="165.00" x2="411.48" y2="158.50" stroke="#000" stroke-width="1.25"/>
<line x1="445.07" y1="100.50" x2="445.07" y2="113.50" stroke="#000" stroke-width="1.25"/>
<line x1="445.07" y1="165.00" x2="445.07" y2="152.00" stroke="#000" stroke-width="1.25"/>
<line x1="478.65" y1="100.50" x2="478.65" y2="107.00" stroke="#000" stroke-width="1.25"/>
<line x1="478.65" y1="165.00" x2="478.65" y2="158.50" stroke="#000" stroke-width="1.25"/>
<line x1="512.24" y1="100.50" x2="512.24" y2="113.50" stroke="#000" stroke-width="1.25"/>
<line x1="512.24" y1="165.00" x2="512.24" y2="152.00" stroke="#000" stroke-width="1.25"/>
<line x1="545.83" y1="100.50" x2="545.83" y2="107.00" stroke="#000" stroke-width="1.25"/>
<line x1="545.83" y1="165.00" x2="545.83" y2="158.50" stroke="#000" stroke-width="1.25"/>
<line x1="579.41" y1="100.50" x2="579.41" y2="113.50" stroke="#000" stroke-width="1.25"/>
<line x1="579.41" y1="165.00" x2="579.41" y2="152.00" stroke="#000" stroke-width="1.25"/>
<line x1="351.50" y1="143.50" x2="364.50" y2="143.50" stroke="#000" stroke-width="1.25"/>
<line x1="599.00" y1="143.50" x2="586.00" y2="143.50" stroke="#000" stroke-width="1.25"/>
<line x1="351.50" y1="122.00" x2="364.50" y2="122.00" stroke="#000" stroke-width="1.25"/>
<line x1="599.00" y1="122.00" x2="586.00" y2="122.00" stroke="#000" stroke-width="1.25"/>
<line x1="351.50" y1="154.25" x2="358.00" y2="154.25" stroke="#000" stroke-width="1.25"/>
<line x1="599.00" y1="154.25" x2="592.50" y2="154.25" stroke="#000" stroke-width="1.25"/>
<line x1="351.50" y1="132.75" x2="358.00" y2="132.75" stroke="#000" stroke-width="1.25"/>
<line x1="599.00" y1="132.75" x2="592.50" y2="132.75" stroke="#000" stroke-width="1.25"/>
<line x1="351.50" y1="111.25" x2="358.00" y2="111.25" stroke="#000" stroke-width="1.25"/>
<line x1="599.00" y1="111.25" x2="592.50" y2="111.25" stroke="#000" stroke-width="1.25"/>
<rect x="351.50" y="100.50" width="247.50" height="64.50" fill="none" stroke="#000" stroke-width="1.25"/>
<line x1="377.90" y1="178.50" x2="377.90" y2="191.50" stroke="#000" stroke-width="1.25"/>
<line x1="377.90" y1="243.80" x2="377.90" y2="230.80" stroke="#000" stroke-width="1.25"/>
<line x1="411.48" y1="178.50" x2="411.48" y2="185.00" stroke="#000" stroke-width="1.25"/>
<line x1="411.48" y1="243.80" x2="411.48" y2="237.30" stroke="#000" stroke-width="1.25"/>
<line x1="445.07" y1="178.50" x2="445.07" y2="191.50" stroke="#000" stroke-width="1.25"/>
<line x1="445.07" y1="243.80" x2="445.07" y2="230.80" stroke="#000" stroke-width="1.25"/>
<line x1="478.65" y1="178.50" x2="478.65" y2="185.00" stroke="#000" stroke-width="1.25"/>
<line x1="478.65" y1="243.80" x2="478.65" y2="237.30" stroke="#000" stroke-width="1.25"/>
<line x1="512.24" y1="178.50" x2="512.24" y2="191.50" stroke="#000" stroke-width="1.25"/>
<line x1="512.24" y1="243.80" x2="512.24" y2="230.80" stroke="#000" stroke-width="1.25"/>
<line x1="545.83" y1="178.50" x2="545.83" y2="185.00" stroke="#000" stroke-width="1.25"/>
<line x1="545.83" y1="243.80" x2="545.83" y2="237.30" stroke="#000" stroke-width="1.25"/>
<line x1="579.41" y1="178.50" x2="579.41" y2="191.50" stroke="#000" stroke-width="1.25"/>
<line x1="579.41" y1="243.80" x2="579.41" y2="230.80" stroke="#000" stroke-width="1.25"/>
<line x1="351.50" y1="215.81" x2="364.50" y2="215.81" stroke="#000" stroke-width="1.25"/>
<line x1="599.00" y1="215.81" x2="586.00" y2="215.81" stroke="#000" stroke-width="1.25"/>
<line x1="351.50" y1="187.83" x2="364.50" y2="187.83" stroke="#000" stroke-width="1.25"/>
<line x1="599.00" y1="187.83" x2="586.00" y2="187.83" stroke="#000" stroke-width="1.25"/>
<line x1="351.50" y1="229.81" x2="358.00" y2="229.81" stroke="#000" stroke-width="1.25"/>
<line x1="599.00" y1="229.81" x2="592.50" y2="229.81" stroke="#000" stroke-width="1.25"/>
<line x1="351.50" y1="201.82" x2="358.00" y2="201.82" stroke="#000" stroke-width="1.25"/>
<line x1="599.00" y1="201.82" x2="592.50" y2="201.82" stroke="#000" stroke-width="1.25"/>
<rect x="351.50" y="178.50" width="247.50" height="65.30" fill="none" stroke="#000" stroke-width="1.25"/>
<text transform="matrix(0.17500 0 0 0.17910 35.10 27.84)" font-size="100" class="t">60</text>
<text transform="matrix(0.17473 0 0 0.17612 35.13 60.55)" font-size="100" class="t">30</text>
<text transform="matrix(0.16697 0 0 0.16866 43.68 92.76)" font-size="100" class="t">0</text>
<text transform="matrix(0.16761 0 0 0.17015 27.13 105.86)" font-size="100" class="t">200</text>
<text transform="matrix(0.16642 0 0 0.16912 27.30 138.56)" font-size="100" class="t">100</text>
<text transform="matrix(0.16845 0 0 0.17015 43.64 171.26)" font-size="100" class="t">0</text>
<text transform="matrix(0.17283 0 0 0.17164 35.11 193.56)" font-size="100" class="t">60</text>
<text transform="matrix(0.17143 0 0 0.17612 35.24 221.55)" font-size="100" class="t">30</text>
<text transform="matrix(0.16993 0 0 0.17164 43.55 249.56)" font-size="100" class="t">0</text>
<text transform="matrix(0.17174 0 0 0.17612 328.71 27.85)" font-size="100" class="t">60</text>
<text transform="matrix(0.17143 0 0 0.17463 328.74 60.55)" font-size="100" class="t">30</text>
<text transform="matrix(0.16697 0 0 0.16866 337.13 92.76)" font-size="100" class="t">0</text>
<text transform="matrix(0.16788 0 0 0.16471 320.89 127.27)" font-size="100" class="t">100</text>
<text transform="matrix(0.17889 0 0 0.18060 328.03 149.84)" font-size="100" class="t">50</text>
<text transform="matrix(0.16993 0 0 0.17164 336.90 171.26)" font-size="100" class="t">0</text>
<text transform="matrix(0.17174 0 0 0.17164 328.71 193.56)" font-size="100" class="t">60</text>
<text transform="matrix(0.17143 0 0 0.17612 328.74 221.55)" font-size="100" class="t">30</text>
<text transform="matrix(0.16993 0 0 0.17164 337.05 249.56)" font-size="100" class="t">0</text>
<text transform="matrix(0.18047 0 0 0.18824 38.78 265.52)" font-size="100" class="t">18:38</text>
<text transform="matrix(0.16512 0 0 0.17059 122.91 265.56)" font-size="100" class="t">18:39</text>
<text transform="matrix(0.16465 0 0 0.17059 205.02 265.56)" font-size="100" class="t">18:40</text>
<text transform="matrix(0.17418 0 0 0.18529 286.83 265.53)" font-size="100" class="t">18:41</text>
<text transform="matrix(0.16620 0 0 0.17059 360.60 265.56)" font-size="100" class="t">18:42</text>
<text transform="matrix(0.16129 0 0 0.17059 427.85 265.56)" font-size="100" class="t">18:44</text>
<text transform="matrix(0.16389 0 0 0.17059 495.43 265.56)" font-size="100" class="t">18:46</text>
<text transform="matrix(0.16279 0 0 0.17059 561.83 265.56)" font-size="100" class="t">18:48</text>
<text transform="matrix(0.18113 0 0 0.18113 168.13 11.90)" font-size="100" class="t">SB1</text>
<text transform="matrix(0.19000 0 0 0.19000 464.97 11.90)" font-size="100" class="t">SB2</text>
<text transform="matrix(0.16355 0 0 0.16618 5.45 296.07)" font-size="100" class="t">21 January 2005</text>
<text transform="matrix(0.16690 0 0 0.16618 155.97 296.07)" font-size="100" class="t">Time (UT)</text>
<text transform="matrix(0.16549 0 0 0.16618 449.87 296.07)" font-size="100" class="t">Time (UT)</text>
<text transform="translate(10.80 54.40) rotate(-90) scale(0.1600)" font-size="100" text-anchor="middle" class="t">B</text>
<line x1="-1.00" y1="47.40" x2="11.60" y2="47.40" stroke="#000" stroke-width="1.1"/>
<line x1="-1.00" y1="61.40" x2="11.60" y2="61.40" stroke="#000" stroke-width="1.1"/>
<text transform="translate(10.80 132.40) rotate(-90) scale(0.1600)" font-size="100" text-anchor="middle" class="t">V</text>
<line x1="-1.00" y1="125.00" x2="11.60" y2="125.00" stroke="#000" stroke-width="1.1"/>
<line x1="-1.00" y1="139.80" x2="11.60" y2="139.80" stroke="#000" stroke-width="1.1"/>
<text transform="translate(10.80 211.00) rotate(-90) scale(0.1600)" font-size="100" text-anchor="middle" class="t">J</text>
<line x1="-1.00" y1="205.90" x2="11.60" y2="205.90" stroke="#000" stroke-width="1.1"/>
<line x1="-1.00" y1="215.80" x2="11.60" y2="215.80" stroke="#000" stroke-width="1.1"/>
</svg></body></html>
